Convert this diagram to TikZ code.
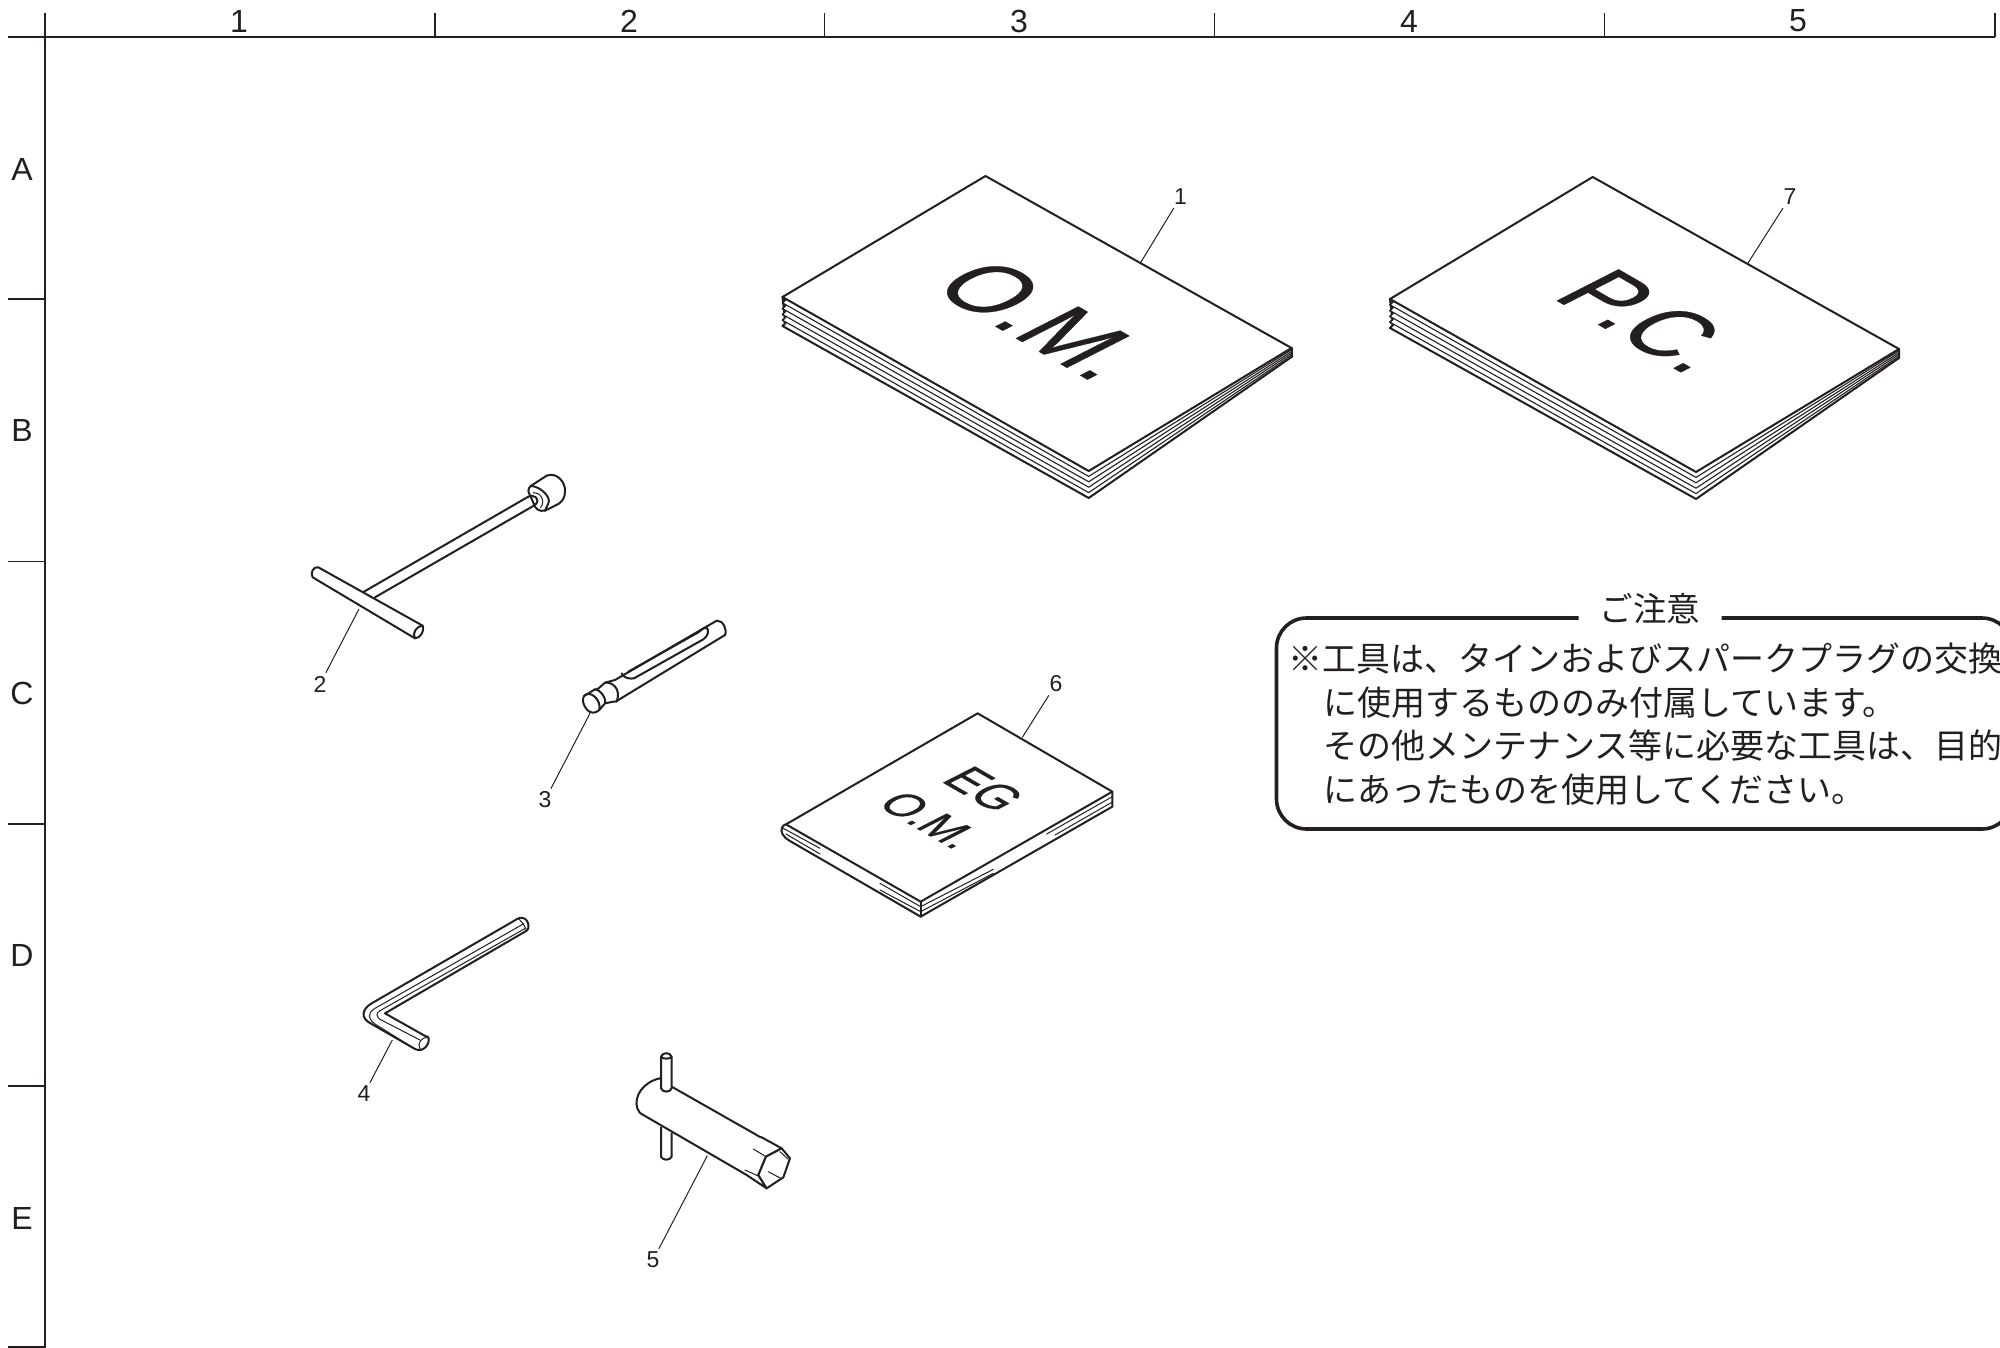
\documentclass[tikz,border=0pt]{standalone}
\usepackage{fontspec}
\setmainfont{Liberation Sans}
\newfontfamily\heavyish[FakeBold=0.4]{Liberation Sans}
\newfontfamily\cjk{Noto Sans CJK JP}
\definecolor{ink}{HTML}{231F20}
\tikzset{
  frameline/.style={draw=ink,line width=1.5pt},
  gridlabel/.style={text=ink,inner sep=0pt,font=\fontsize{32}{32}\selectfont},
  partlabel/.style={text=ink,inner sep=3pt,font=\fontsize{23}{23}\selectfont},
  leader/.style={draw=ink,line width=1pt},
  tool/.style={draw=ink,line width=2pt,line join=round,line cap=round},
  thin tool/.style={draw=ink,line width=1pt,line cap=round},
  page/.style={draw=ink,line width=1.1pt,fill=white,line join=round},
  noteline/.style={text=ink,inner sep=0pt,anchor=west,font=\cjk\fontsize{34}{34}\selectfont},
  zoomed/.style={x=0.33333pt,y=-0.33333pt},
}
% #1 name, #2 x, #3 y, #4 size, #5 text
\newcommand{\skewlabel}[5]{%
  \begin{scope}[shift={(#2,#3)},cm={.866,-.5,1.03,.525,(0,0)}]
    \node[transform shape,inner sep=0pt,text=ink,font=\heavyish\fontsize{#4}{#4}\selectfont] (#1) at (0,0) {#5};
  \end{scope}}
% left x,y  top x,y  right x,y  front x,y
\newcommand{\bookstack}[8]{%
  \foreach \i in {5,4,3,2,1}{
    \draw[page,line width={\ifnum\i=5 2pt\else 1.1pt\fi}]
      ({#1},{#2+5.8*\i}) -- ({#7},{#8+5.4*\i}) -- ({#5},{#6+1.8*\i}) -- ({#5},{#6}) -- ({#7},{#8}) -- ({#1},{#2})
      -- ({#1+3},{#2+5.8*\i-3}) -- cycle;
    \draw[tool,line width=1.5pt] ({#1},{#2+5.8*\i}) -- ({#1+3},{#2+5.8*\i-3}) -- ({#1},{#2+5.8*\i-5.8});
  }
  \draw[tool,fill=white] ({#1},{#2}) -- ({#3},{#4}) -- ({#5},{#6}) -- ({#7},{#8}) -- cycle;
  \draw[tool] ({#5},{#6}) -- ({#5},{#6+9});
}
\begin{document}
\begin{tikzpicture}[x=1pt,y=-1pt]
\useasboundingbox (0,0) rectangle (2000,1348);
\clip (0,0) rectangle (2000,1348);
% frame
\draw[frameline] (8,37) -- (1995,37);
\draw[frameline] (45,13) -- (45,1348);
\foreach \x in {435,824.5,1214.5,1604.5,1995} \draw[frameline] (\x,13) -- (\x,37);
\foreach \y in {299,561.5,824,1086,1347} \draw[frameline] (8,\y) -- (45,\y);
\node[gridlabel] (c1) at (239,21) {1};
\node[gridlabel] (c2) at (629,21) {2};
\node[gridlabel] (c3) at (1019,21) {3};
\node[gridlabel] (c4) at (1409,21) {4};
\node[gridlabel] (c5) at (1798,21) {5};
\node[gridlabel] (rA) at (22,169) {A};
\node[gridlabel] (rB) at (22,430) {B};
\node[gridlabel] (rC) at (22,693) {C};
\node[gridlabel] (rD) at (22,955) {D};
\node[gridlabel] (rE) at (22,1218) {E};
% book 1
\bookstack{782.5}{297}{985.5}{176}{1291.5}{348}{1088.7}{471}
\skewlabel{om}{1043}{320}{88}{O.M.}
\node[partlabel] (n1) at (1180.5,197) {1};
\coordinate (p1) at (1141,262);
\draw[leader] (n1) -- (p1);
% book 7
\bookstack{1390}{299}{1592.7}{177}{1899}{349}{1696}{472}
\skewlabel{pc}{1650}{321}{87}{P.C.}
\node[partlabel] (n7) at (1790,197) {7};
\coordinate (p7) at (1748,263);
\draw[leader] (n7) -- (p7);
% booklet 6
\begin{scope}[shift={(760,660)},zoomed]
  \draw[tool,fill=white] (78,493) -- (653,160) -- (1057,395) -- (1057,440) -- (482,770) -- (88,542)
     .. controls (70,532) and (60,515) .. (66,503) .. controls (68,497) and (72,495) .. (78,493) -- cycle;
  \draw[tool] (78,493) -- (482,725) -- (1057,395);
  \draw[tool] (482,725) -- (482,770);
  \draw[thin tool] (70,505) -- (180,565) (78,522) -- (180,582);
  \draw[thin tool] (360,670) -- (482,740) (360,690) -- (482,755);
  \draw[thin tool] (482,740) -- (700,628) (482,755) -- (700,640);
  \draw[thin tool] (860,522) -- (1057,410) (885,525) -- (1057,426);
  \coordinate (p6) at (787,232);
\end{scope}
\skewlabel{eg}{984}{789}{45}{EG}
\skewlabel{om2}{930}{820}{42}{O.M.}
\node[partlabel] (n6) at (1056,684) {6};
\draw[leader] (n6) -- (p6);
% tool 2: T wrench
\begin{scope}[shift={(290,460)},zoomed]
  \draw[tool] (222,395) -- (715,110) (255,412) -- (735,135);
  \draw[tool,fill=white] (722,78) -- (770,47) .. controls (800,36) and (827,65) .. (825,95)
     .. controls (825,115) and (815,125) .. (805,132) -- (765,152)
     .. controls (748,155) and (735,148) .. (730,128) -- (720,105) .. controls (712,95) and (715,85) .. (722,78) -- cycle;
  \draw[tool] (722,78) .. controls (750,78) and (785,112) .. (775,130) -- (765,152);
  \draw[thin tool] (730,98) .. controls (750,95) and (768,122) .. (752,143);
  \draw[tool] (715,110) .. controls (730,100) and (755,118) .. (735,135);
  \draw[tool,fill=white] (85,322) -- (398,497) .. controls (405,510) and (392,535) .. (375,535)
     -- (68,352) .. controls (60,340) and (70,318) .. (85,322) -- cycle;
  \draw[tool] (398,497) .. controls (380,497) and (365,520) .. (375,535);
  \coordinate (p2) at (207,447);
\end{scope}
\node[partlabel] (n2) at (320,684) {2};
\draw[leader] (n2) -- (p2);
% tool 3: pen-like driver
\begin{scope}[shift={(560,600)},zoomed]
  \draw[tool,fill=white] (165,240) -- (470,62) .. controls (490,60) and (502,90) .. (495,105)
     -- (175,300) .. controls (170,305) and (165,305) .. (160,305) -- (135,310)
     -- (118,330) .. controls (105,342) and (90,340) .. (80,328) .. controls (70,315) and (65,300) .. (72,288)
     -- (105,268) -- (112,268) -- (135,248) -- cycle;
  \draw[tool] (72,288) .. controls (90,268) and (125,300) .. (118,330);
  \draw[tool] (105,268) .. controls (120,268) and (140,295) .. (135,310);
  \draw[tool] (135,248) .. controls (155,245) and (185,265) .. (170,305);
  \draw[tool] (185,220) .. controls (190,230) and (200,238) .. (222,235) -- (430,118)
     .. controls (445,108) and (448,90) .. (440,83) .. controls (425,85) and (425,90) .. (415,97) -- (205,215);
  \draw[thin tool] (105,290) .. controls (115,300) and (122,315) .. (118,330);
  \coordinate (p3) at (90,340);
\end{scope}
\node[partlabel] (n3) at (545,800) {3};
\draw[leader] (n3) -- (p3);
% tool 4: hex key
\begin{scope}[shift={(340,900)},zoomed]
  \draw[tool,fill=white] (535,55) -- (95,310) .. controls (65,328) and (60,355) .. (95,372) -- (225,447)
     .. controls (250,460) and (272,430) .. (265,412) .. controls (260,410) and (255,408) .. (250,405) -- (135,340) -- (560,92)
     .. controls (572,85) and (565,45) .. (535,55) -- cycle;
  \draw[thin tool] (550,72) -- (105,325) .. controls (80,340) and (85,358) .. (105,372) -- (225,447);
  \draw[thin tool] (556,85) -- (120,332) .. controls (108,340) and (108,348) .. (120,358) -- (240,420);
  \draw[thin tool] (265,412) .. controls (245,410) and (230,430) .. (240,447);
  \draw[thin tool] (535,55) -- (550,72) -- (560,92);
  \coordinate (p4) at (157,420);
\end{scope}
\node[partlabel] (n4) at (364,1094) {4};
\draw[leader] (n4) -- (p4);
% tool 5: box wrench
\begin{scope}[shift={(620,1040)},zoomed]
  \draw[tool] (123,262) -- (123,350) .. controls (128,362) and (150,362) .. (155,350) -- (155,280);
  \draw[tool,fill=white] (120,115) .. controls (70,125) and (40,170) .. (52,205) .. controls (55,215) and (60,220) .. (70,225)
     -- (380,405) -- (440,445) -- (415,405) -- (438,350) -- (485,325) -- (425,292) .. controls (420,292) and (418,290) .. (410,285) -- (155,140) -- cycle;
  \draw[tool,fill=white] (123,50) -- (123,145) .. controls (128,158) and (150,158) .. (155,145) -- (155,50)
     .. controls (150,36) and (128,36) .. (123,50) -- cycle;
  \draw[tool] (123,50) .. controls (128,58) and (150,58) .. (155,50);
  \draw[tool,fill=white] (438,350) -- (485,325) -- (510,355) -- (490,412) -- (440,445) -- (415,405) -- cycle;
  \draw[thin tool] (400,327) -- (438,350) (375,390) -- (415,408) (445,395) -- (482,415) (480,335) -- (505,358);
  \coordinate (p5) at (262,347);
\end{scope}
\node[partlabel] (n5) at (653,1260) {5};
\draw[leader] (n5) -- (p5);
% notice
\draw[draw=ink,line width=3.6pt,rounded corners=30pt] (1578.5,618) -- (1276.5,618) -- (1276.5,829) -- (2012,829) -- (2012,618) -- (1721.5,618);
\node[text=ink,inner sep=0pt,font=\cjk\fontsize{33.5}{34}\selectfont] (nh) at (1650,609) {ご注意};
\node[noteline] (l1) at (1288,659) {※工具は、タインおよびスパークプラグの交換};
\node[noteline] (l2) at (1323,702.5) {に使用するもののみ付属しています。};
\node[noteline] (l3) at (1323,746) {その他メンテナンス等に必要な工具は、目的};
\node[noteline] (l4) at (1323,789.5) {にあったものを使用してください。};
\end{tikzpicture}
\end{document}
